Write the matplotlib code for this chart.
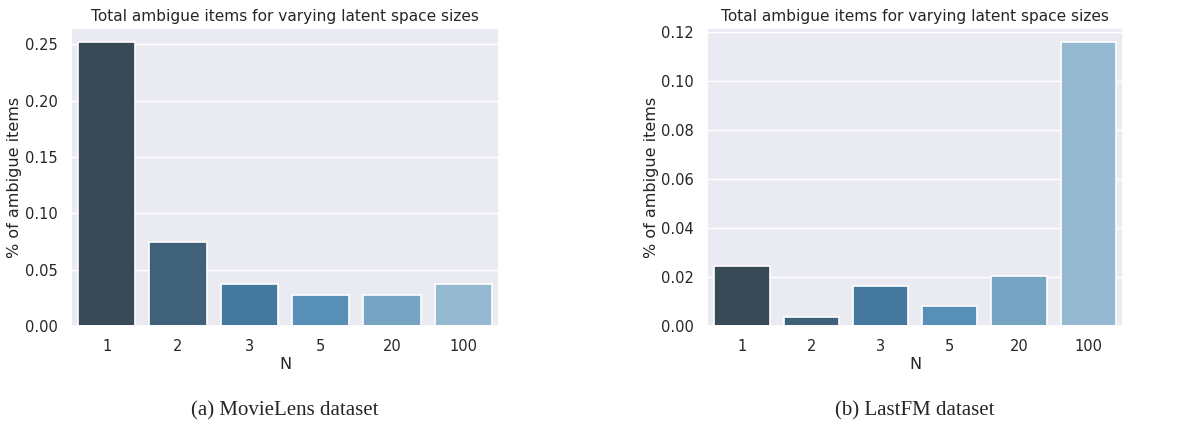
import matplotlib
matplotlib.use("Agg")
import matplotlib.pyplot as plt
import seaborn as sns

sns.set_theme(style="darkgrid")
plt.rcParams["font.family"] = ["DejaVu Sans"]

# latent space sizes
sizes = ["1", "2", "3", "5", "20", "100"]
# share of ambiguous items per dataset
movielens_vals = [0.252, 0.0743, 0.037, 0.0275, 0.0275, 0.037]
lastfm_vals = [0.0245, 0.0037, 0.0164, 0.0081, 0.0204, 0.116]

title = "Total ambigue items for varying latent space sizes"
captions = ["(a) MovieLens dataset", "(b) LastFM dataset"]

# dark -> light, like the old Blues_d
colors = sns.color_palette("Blues_d", len(sizes))[::-1]

fig = plt.figure(figsize=(11.77, 4.28), dpi=100, facecolor="white")
ax1 = fig.add_axes([0.0603, 0.2383, 0.3637, 0.6963])
ax2 = fig.add_axes([0.6010, 0.2383, 0.3530, 0.6963])

for ax, vals, cap in zip([ax1, ax2], [movielens_vals, lastfm_vals], captions):
    sns.barplot(x=sizes, y=vals, hue=sizes, palette=colors, legend=False,
                ax=ax, edgecolor="white", linewidth=1.2)
    ax.set_title(title, fontsize=11.1, pad=5)
    ax.set_xlabel("N", fontsize=11.5, labelpad=2)
    ax.set_ylabel("% of ambigue items", fontsize=11.5, labelpad=2)
    ax.tick_params(labelsize=10.5)
    pos = ax.get_position()
    fig.text((pos.x0 + pos.x1) / 2, 0.04, cap, ha="center", va="center",
             fontsize=15, family="Liberation Serif")

fig.savefig("out.png", dpi=100)
